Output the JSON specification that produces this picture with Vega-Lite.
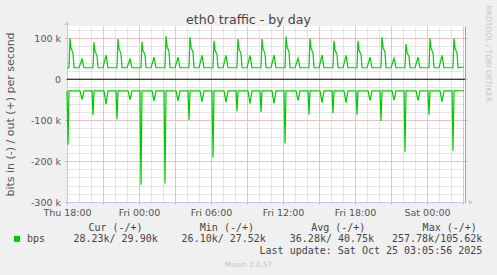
{
  "$schema": "https://vega.github.io/schema/vega-lite/v6.json",
  "width": 398,
  "height": 176,
  "autosize": {"type": "none"},
  "padding": {"left": 67, "top": 26, "right": 32, "bottom": 73},
  "background": "#f0f0f0",
  "config": {
    "view": {"fill": "white", "stroke": null},
    "axis": {"labelFont": "DejaVu Sans", "titleFont": "DejaVu Sans", "titleFontWeight": "normal"}
  },
  "title": {
    "text": "eth0 traffic - by day",
    "font": "DejaVu Sans",
    "fontSize": 12.6,
    "fontWeight": "normal",
    "color": "#444444",
    "anchor": "middle",
    "frame": "group",
    "dx": -17.5,
    "baseline": "alphabetic",
    "offset": -31.6
  },
  "datasets": {
    "outdata": [
      {"t": "2025-10-23T18:00Z", "v": 28000}, {"t": "2025-10-23T18:10Z", "v": 28000}, {"t": "2025-10-23T18:15Z", "v": 100000}, {"t": "2025-10-23T18:20Z", "v": 76000}, {"t": "2025-10-23T18:25Z", "v": 70000}, {"t": "2025-10-23T18:30Z", "v": 64000}, {"t": "2025-10-23T18:35Z", "v": 28000},
      {"t": "2025-10-23T19:00Z", "v": 28000}, {"t": "2025-10-23T19:15Z", "v": 49000}, {"t": "2025-10-23T19:25Z", "v": 28000},
      {"t": "2025-10-23T20:10Z", "v": 28000}, {"t": "2025-10-23T20:15Z", "v": 90000}, {"t": "2025-10-23T20:20Z", "v": 68400}, {"t": "2025-10-23T20:25Z", "v": 63000}, {"t": "2025-10-23T20:30Z", "v": 57600}, {"t": "2025-10-23T20:35Z", "v": 28000},
      {"t": "2025-10-23T21:00Z", "v": 28000}, {"t": "2025-10-23T21:15Z", "v": 59000}, {"t": "2025-10-23T21:25Z", "v": 28000},
      {"t": "2025-10-23T22:10Z", "v": 28000}, {"t": "2025-10-23T22:15Z", "v": 98000}, {"t": "2025-10-23T22:20Z", "v": 74500}, {"t": "2025-10-23T22:25Z", "v": 68600}, {"t": "2025-10-23T22:30Z", "v": 62700}, {"t": "2025-10-23T22:35Z", "v": 28000},
      {"t": "2025-10-23T23:00Z", "v": 28000}, {"t": "2025-10-23T23:15Z", "v": 49000}, {"t": "2025-10-23T23:25Z", "v": 28000},
      {"t": "2025-10-24T00:10Z", "v": 28000}, {"t": "2025-10-24T00:15Z", "v": 92000}, {"t": "2025-10-24T00:20Z", "v": 69900}, {"t": "2025-10-24T00:25Z", "v": 64400}, {"t": "2025-10-24T00:30Z", "v": 58900}, {"t": "2025-10-24T00:35Z", "v": 28000},
      {"t": "2025-10-24T01:00Z", "v": 28000}, {"t": "2025-10-24T01:15Z", "v": 54000}, {"t": "2025-10-24T01:25Z", "v": 28000},
      {"t": "2025-10-24T02:10Z", "v": 28000}, {"t": "2025-10-24T02:15Z", "v": 105620}, {"t": "2025-10-24T02:20Z", "v": 80300}, {"t": "2025-10-24T02:25Z", "v": 73900}, {"t": "2025-10-24T02:30Z", "v": 67600}, {"t": "2025-10-24T02:35Z", "v": 28000},
      {"t": "2025-10-24T03:00Z", "v": 28000}, {"t": "2025-10-24T03:15Z", "v": 54000}, {"t": "2025-10-24T03:25Z", "v": 28000},
      {"t": "2025-10-24T04:10Z", "v": 28000}, {"t": "2025-10-24T04:15Z", "v": 103000}, {"t": "2025-10-24T04:20Z", "v": 78300}, {"t": "2025-10-24T04:25Z", "v": 72100}, {"t": "2025-10-24T04:30Z", "v": 65900}, {"t": "2025-10-24T04:35Z", "v": 28000},
      {"t": "2025-10-24T05:00Z", "v": 28000}, {"t": "2025-10-24T05:15Z", "v": 58000}, {"t": "2025-10-24T05:25Z", "v": 28000},
      {"t": "2025-10-24T06:10Z", "v": 28000}, {"t": "2025-10-24T06:15Z", "v": 94000}, {"t": "2025-10-24T06:20Z", "v": 71400}, {"t": "2025-10-24T06:25Z", "v": 65800}, {"t": "2025-10-24T06:30Z", "v": 60200}, {"t": "2025-10-24T06:35Z", "v": 28000},
      {"t": "2025-10-24T07:00Z", "v": 28000}, {"t": "2025-10-24T07:15Z", "v": 58000}, {"t": "2025-10-24T07:25Z", "v": 28000},
      {"t": "2025-10-24T08:10Z", "v": 28000}, {"t": "2025-10-24T08:15Z", "v": 98000}, {"t": "2025-10-24T08:20Z", "v": 74500}, {"t": "2025-10-24T08:25Z", "v": 68600}, {"t": "2025-10-24T08:30Z", "v": 62700}, {"t": "2025-10-24T08:35Z", "v": 28000},
      {"t": "2025-10-24T09:00Z", "v": 28000}, {"t": "2025-10-24T09:15Z", "v": 58000}, {"t": "2025-10-24T09:25Z", "v": 28000},
      {"t": "2025-10-24T10:10Z", "v": 28000}, {"t": "2025-10-24T10:15Z", "v": 98000}, {"t": "2025-10-24T10:20Z", "v": 74500}, {"t": "2025-10-24T10:25Z", "v": 68600}, {"t": "2025-10-24T10:30Z", "v": 62700}, {"t": "2025-10-24T10:35Z", "v": 28000},
      {"t": "2025-10-24T11:00Z", "v": 28000}, {"t": "2025-10-24T11:15Z", "v": 59000}, {"t": "2025-10-24T11:25Z", "v": 28000},
      {"t": "2025-10-24T12:10Z", "v": 28000}, {"t": "2025-10-24T12:15Z", "v": 104000}, {"t": "2025-10-24T12:20Z", "v": 79000}, {"t": "2025-10-24T12:25Z", "v": 72800}, {"t": "2025-10-24T12:30Z", "v": 66600}, {"t": "2025-10-24T12:35Z", "v": 28000},
      {"t": "2025-10-24T13:00Z", "v": 28000}, {"t": "2025-10-24T13:15Z", "v": 51000}, {"t": "2025-10-24T13:25Z", "v": 28000},
      {"t": "2025-10-24T14:10Z", "v": 28000}, {"t": "2025-10-24T14:15Z", "v": 100000}, {"t": "2025-10-24T14:20Z", "v": 76000}, {"t": "2025-10-24T14:25Z", "v": 70000}, {"t": "2025-10-24T14:30Z", "v": 64000}, {"t": "2025-10-24T14:35Z", "v": 28000},
      {"t": "2025-10-24T15:00Z", "v": 28000}, {"t": "2025-10-24T15:15Z", "v": 59000}, {"t": "2025-10-24T15:25Z", "v": 28000},
      {"t": "2025-10-24T16:10Z", "v": 28000}, {"t": "2025-10-24T16:15Z", "v": 94000}, {"t": "2025-10-24T16:20Z", "v": 71400}, {"t": "2025-10-24T16:25Z", "v": 65800}, {"t": "2025-10-24T16:30Z", "v": 60200}, {"t": "2025-10-24T16:35Z", "v": 28000},
      {"t": "2025-10-24T17:00Z", "v": 28000}, {"t": "2025-10-24T17:15Z", "v": 58000}, {"t": "2025-10-24T17:25Z", "v": 28000},
      {"t": "2025-10-24T18:10Z", "v": 28000}, {"t": "2025-10-24T18:15Z", "v": 94000}, {"t": "2025-10-24T18:20Z", "v": 71400}, {"t": "2025-10-24T18:25Z", "v": 65800}, {"t": "2025-10-24T18:30Z", "v": 60200}, {"t": "2025-10-24T18:35Z", "v": 28000},
      {"t": "2025-10-24T19:00Z", "v": 28000}, {"t": "2025-10-24T19:15Z", "v": 54000}, {"t": "2025-10-24T19:25Z", "v": 28000},
      {"t": "2025-10-24T20:10Z", "v": 28000}, {"t": "2025-10-24T20:15Z", "v": 103000}, {"t": "2025-10-24T20:20Z", "v": 78300}, {"t": "2025-10-24T20:25Z", "v": 72100}, {"t": "2025-10-24T20:30Z", "v": 65900}, {"t": "2025-10-24T20:35Z", "v": 28000},
      {"t": "2025-10-24T21:00Z", "v": 28000}, {"t": "2025-10-24T21:15Z", "v": 51000}, {"t": "2025-10-24T21:25Z", "v": 28000},
      {"t": "2025-10-24T22:10Z", "v": 28000}, {"t": "2025-10-24T22:15Z", "v": 86000}, {"t": "2025-10-24T22:20Z", "v": 65400}, {"t": "2025-10-24T22:25Z", "v": 60200}, {"t": "2025-10-24T22:30Z", "v": 55000}, {"t": "2025-10-24T22:35Z", "v": 28000},
      {"t": "2025-10-24T23:00Z", "v": 28000}, {"t": "2025-10-24T23:15Z", "v": 54000}, {"t": "2025-10-24T23:25Z", "v": 28000},
      {"t": "2025-10-25T00:10Z", "v": 28000}, {"t": "2025-10-25T00:15Z", "v": 100000}, {"t": "2025-10-25T00:20Z", "v": 76000}, {"t": "2025-10-25T00:25Z", "v": 70000}, {"t": "2025-10-25T00:30Z", "v": 64000}, {"t": "2025-10-25T00:35Z", "v": 28000},
      {"t": "2025-10-25T01:00Z", "v": 28000}, {"t": "2025-10-25T01:15Z", "v": 58000}, {"t": "2025-10-25T01:25Z", "v": 28000},
      {"t": "2025-10-25T02:10Z", "v": 28000}, {"t": "2025-10-25T02:15Z", "v": 100000}, {"t": "2025-10-25T02:20Z", "v": 76000}, {"t": "2025-10-25T02:25Z", "v": 70000}, {"t": "2025-10-25T02:30Z", "v": 64000}, {"t": "2025-10-25T02:35Z", "v": 28000},
      {"t": "2025-10-25T03:05Z", "v": 29900}
    ],
    "indata": [
      {"t": "2025-10-23T18:00Z", "v": -28500}, {"t": "2025-10-23T18:05Z", "v": -160000}, {"t": "2025-10-23T18:10Z", "v": -28500},
      {"t": "2025-10-23T19:05Z", "v": -28500}, {"t": "2025-10-23T19:15Z", "v": -49000}, {"t": "2025-10-23T19:25Z", "v": -28500},
      {"t": "2025-10-23T20:05Z", "v": -28500}, {"t": "2025-10-23T20:10Z", "v": -88000}, {"t": "2025-10-23T20:15Z", "v": -28500},
      {"t": "2025-10-23T21:05Z", "v": -28500}, {"t": "2025-10-23T21:15Z", "v": -61000}, {"t": "2025-10-23T21:25Z", "v": -28500},
      {"t": "2025-10-23T22:05Z", "v": -28500}, {"t": "2025-10-23T22:10Z", "v": -98000}, {"t": "2025-10-23T22:15Z", "v": -28500},
      {"t": "2025-10-23T23:05Z", "v": -28500}, {"t": "2025-10-23T23:15Z", "v": -50000}, {"t": "2025-10-23T23:25Z", "v": -28500},
      {"t": "2025-10-24T00:05Z", "v": -28500}, {"t": "2025-10-24T00:10Z", "v": -257780}, {"t": "2025-10-24T00:15Z", "v": -28500},
      {"t": "2025-10-24T01:05Z", "v": -28500}, {"t": "2025-10-24T01:15Z", "v": -53000}, {"t": "2025-10-24T01:25Z", "v": -28500},
      {"t": "2025-10-24T02:05Z", "v": -28500}, {"t": "2025-10-24T02:10Z", "v": -255000}, {"t": "2025-10-24T02:15Z", "v": -28500},
      {"t": "2025-10-24T03:05Z", "v": -28500}, {"t": "2025-10-24T03:15Z", "v": -53000}, {"t": "2025-10-24T03:25Z", "v": -28500},
      {"t": "2025-10-24T04:05Z", "v": -28500}, {"t": "2025-10-24T04:10Z", "v": -99500}, {"t": "2025-10-24T04:15Z", "v": -28500},
      {"t": "2025-10-24T05:05Z", "v": -28500}, {"t": "2025-10-24T05:15Z", "v": -55000}, {"t": "2025-10-24T05:25Z", "v": -28500},
      {"t": "2025-10-24T06:05Z", "v": -28500}, {"t": "2025-10-24T06:10Z", "v": -191000}, {"t": "2025-10-24T06:15Z", "v": -28500},
      {"t": "2025-10-24T07:05Z", "v": -28500}, {"t": "2025-10-24T07:15Z", "v": -56000}, {"t": "2025-10-24T07:25Z", "v": -28500},
      {"t": "2025-10-24T08:05Z", "v": -28500}, {"t": "2025-10-24T08:10Z", "v": -78000}, {"t": "2025-10-24T08:15Z", "v": -28500},
      {"t": "2025-10-24T09:05Z", "v": -28500}, {"t": "2025-10-24T09:15Z", "v": -60000}, {"t": "2025-10-24T09:25Z", "v": -28500},
      {"t": "2025-10-24T10:05Z", "v": -28500}, {"t": "2025-10-24T10:10Z", "v": -80000}, {"t": "2025-10-24T10:15Z", "v": -28500},
      {"t": "2025-10-24T11:05Z", "v": -28500}, {"t": "2025-10-24T11:15Z", "v": -59000}, {"t": "2025-10-24T11:25Z", "v": -28500},
      {"t": "2025-10-24T12:05Z", "v": -28500}, {"t": "2025-10-24T12:10Z", "v": -157000}, {"t": "2025-10-24T12:15Z", "v": -28500},
      {"t": "2025-10-24T13:05Z", "v": -28500}, {"t": "2025-10-24T13:15Z", "v": -52000}, {"t": "2025-10-24T13:25Z", "v": -28500},
      {"t": "2025-10-24T14:05Z", "v": -28500}, {"t": "2025-10-24T14:10Z", "v": -87000}, {"t": "2025-10-24T14:15Z", "v": -28500},
      {"t": "2025-10-24T15:05Z", "v": -28500}, {"t": "2025-10-24T15:15Z", "v": -57000}, {"t": "2025-10-24T15:25Z", "v": -28500},
      {"t": "2025-10-24T16:05Z", "v": -28500}, {"t": "2025-10-24T16:10Z", "v": -83000}, {"t": "2025-10-24T16:15Z", "v": -28500},
      {"t": "2025-10-24T17:05Z", "v": -28500}, {"t": "2025-10-24T17:15Z", "v": -57000}, {"t": "2025-10-24T17:25Z", "v": -28500},
      {"t": "2025-10-24T18:05Z", "v": -28500}, {"t": "2025-10-24T18:10Z", "v": -87000}, {"t": "2025-10-24T18:15Z", "v": -28500},
      {"t": "2025-10-24T19:05Z", "v": -28500}, {"t": "2025-10-24T19:15Z", "v": -52000}, {"t": "2025-10-24T19:25Z", "v": -28500},
      {"t": "2025-10-24T20:05Z", "v": -28500}, {"t": "2025-10-24T20:10Z", "v": -102000}, {"t": "2025-10-24T20:15Z", "v": -28500},
      {"t": "2025-10-24T21:05Z", "v": -28500}, {"t": "2025-10-24T21:15Z", "v": -51000}, {"t": "2025-10-24T21:25Z", "v": -28500},
      {"t": "2025-10-24T22:05Z", "v": -28500}, {"t": "2025-10-24T22:10Z", "v": -177000}, {"t": "2025-10-24T22:15Z", "v": -28500},
      {"t": "2025-10-24T23:05Z", "v": -28500}, {"t": "2025-10-24T23:15Z", "v": -52000}, {"t": "2025-10-24T23:25Z", "v": -28500},
      {"t": "2025-10-25T00:05Z", "v": -28500}, {"t": "2025-10-25T00:10Z", "v": -87000}, {"t": "2025-10-25T00:15Z", "v": -28500},
      {"t": "2025-10-25T01:05Z", "v": -28500}, {"t": "2025-10-25T01:15Z", "v": -55000}, {"t": "2025-10-25T01:25Z", "v": -28500},
      {"t": "2025-10-25T02:05Z", "v": -28500}, {"t": "2025-10-25T02:10Z", "v": -175000}, {"t": "2025-10-25T02:15Z", "v": -28500},
      {"t": "2025-10-25T03:05Z", "v": -28230}
    ],
    "headdata": [
      {"col": "bps", "row": "bps", "label": "bps"},
      {"col": "Cur", "row": "head", "label": "Cur (-/+)"},
      {"col": "Min", "row": "head", "label": "Min (-/+)"},
      {"col": "Avg", "row": "head", "label": "Avg (-/+)"},
      {"col": "Max", "row": "head", "label": "Max (-/+)"}
    ],
    "valdata": [
      {"col": "Cur", "row": "bps", "label": "28.23k/ 29.90k"},
      {"col": "Min", "row": "bps", "label": "26.10k/ 27.52k"},
      {"col": "Avg", "row": "bps", "label": "36.28k/ 40.75k"},
      {"col": "Max", "row": "bps", "label": "257.78k/105.62k"},
      {"col": "Max", "row": "update", "label": "Last update: Sat Oct 25 03:05:56 2025"}
    ]
  },
  "layer": [
    {
      "data": {"name": "outdata"},
      "mark": {"type": "line", "color": "#00cc00", "strokeWidth": 1.2},
      "encoding": {
        "x": {
          "field": "t", "type": "temporal",
          "scale": {"type": "utc", "domain": [1761242400000, 1761361800000], "nice": false},
          "axis": {
            "orient": "top",
            "values": [1761242400000, 1761246000000, 1761249600000, 1761253200000, 1761256800000, 1761260400000, 1761264000000, 1761267600000, 1761271200000, 1761274800000, 1761278400000, 1761282000000, 1761285600000, 1761289200000, 1761292800000, 1761296400000, 1761300000000, 1761303600000, 1761307200000, 1761310800000, 1761314400000, 1761318000000, 1761321600000, 1761325200000, 1761328800000, 1761332400000, 1761336000000, 1761339600000, 1761343200000, 1761346800000, 1761350400000, 1761354000000, 1761357600000, 1761361200000],
            "grid": true, "gridColor": "#cccccc", "gridDash": [1, 1], "gridWidth": 1,
            "labels": false, "ticks": false, "domain": false, "title": null
          }
        },
        "y": {
          "field": "v", "type": "quantitative",
          "scale": {"domain": [-300000, 130000], "nice": false, "zero": false},
          "axis": {
            "orient": "right",
            "values": [-280000, -260000, -240000, -220000, -200000, -180000, -160000, -140000, -120000, -100000, -80000, -60000, -40000, -20000, 0, 20000, 40000, 60000, 80000, 100000, 120000],
            "grid": true, "gridColor": "#cccccc", "gridDash": [1, 1], "gridWidth": 1,
            "labels": false, "ticks": false, "domain": false, "title": null
          }
        }
      }
    },
    {
      "data": {"name": "indata"},
      "mark": {"type": "line", "color": "#00cc00", "strokeWidth": 1.2},
      "encoding": {
        "x": {
          "field": "t", "type": "temporal",
          "scale": {"type": "utc", "domain": [1761242400000, 1761361800000], "nice": false},
          "axis": {
            "orient": "bottom",
            "values": [1761242400000, 1761253200000, 1761264000000, 1761274800000, 1761285600000, 1761296400000, 1761307200000, 1761318000000, 1761328800000, 1761339600000, 1761350400000, 1761361200000],
            "grid": true, "gridColor": "#e8a0a0", "gridDash": [1, 1], "gridWidth": 1,
            "labelExpr": "utchours(datum.value) % 6 == 0 ? utcFormat(datum.value, '%a %H:%M') : ''",
            "labelFontSize": 9.5, "labelColor": "#555555", "labelFlush": false, "labelOverlap": false,
            "labelBaseline": "alphabetic", "labelPadding": 11.5,
            "ticks": true, "tickSize": 2, "tickColor": "#e8a0a0",
            "domain": true, "domainColor": "#c6c6f4", "domainWidth": 1,
            "title": "Munin 2.0.57", "titleX": 181, "titleY": 64.5, "titleAlign": "center", "titleBaseline": "alphabetic",
            "titleFontSize": 7.2, "titleColor": "#c4c4c4"
          }
        },
        "y": {
          "field": "v", "type": "quantitative",
          "scale": {"domain": [-300000, 130000], "nice": false, "zero": false},
          "axis": {
            "orient": "left",
            "values": [-300000, -200000, -100000, 0, 100000],
            "grid": true, "gridColor": "#e8a0a0", "gridDash": [1, 1], "gridWidth": 1,
            "labelExpr": "datum.value == 0 ? '0\u00a0\u00a0' : (datum.value < 0 ? '-' : '') + abs(datum.value) / 1000 + ' k'",
            "labelFontSize": 9.5, "labelColor": "#555555", "labelPadding": 4.5, "labelBaseline": "middle",
            "ticks": true, "tickSize": 2, "tickColor": "#e8a0a0",
            "domain": true, "domainColor": "#c6c6f4", "domainWidth": 1,
            "title": "bits in (-) / out (+) per second", "titleX": -56.5, "titleY": 88, "titleAngle": -90,
            "titleAlign": "center", "titleBaseline": "middle", "titleFontSize": 11, "titleColor": "#555555"
          }
        }
      }
    },
    {
      "data": {"values": [{}]},
      "mark": {"type": "rule", "color": "#000000", "strokeWidth": 1},
      "encoding": {
        "y": {
          "datum": 0, "type": "quantitative",
          "scale": {"domain": [-300000, 130000], "nice": false, "zero": false},
          "axis": {
            "orient": "right", "values": [-200000, -100000, 0, 100000],
            "grid": false, "labels": false,
            "ticks": true, "tickSize": 2, "tickColor": "#e8a0a0",
            "domain": true, "domainColor": "#a0a0a0", "domainWidth": 1,
            "title": "RRDTOOL / TOBI OETIKER", "titleAngle": 90, "titleAlign": "left", "titleBaseline": "middle",
            "titleX": 22.8, "titleY": -21, "titleFontSize": 7.5, "titleColor": "#c4c4c4"
          }
        }
      }
    },
    {
      "data": {"values": [{}]},
      "mark": {"type": "point", "shape": "triangle-up", "size": 25, "filled": true, "color": "#c6c6f4", "opacity": 1},
      "encoding": {
        "x": {"datum": 1761242400000, "type": "temporal", "scale": {"type": "utc", "domain": [1761242400000, 1761361800000], "nice": false}, "axis": null},
        "y": {"datum": 137000, "type": "quantitative", "scale": {"domain": [-300000, 130000], "nice": false, "zero": false}, "axis": null}
      }
    },
    {
      "data": {"values": [{}]},
      "mark": {"type": "point", "shape": "triangle-right", "size": 25, "filled": true, "color": "#c6c6f4", "opacity": 1},
      "encoding": {
        "x": {"datum": 1761363600000, "type": "temporal", "scale": {"type": "utc", "domain": [1761242400000, 1761361800000], "nice": false}, "axis": null},
        "y": {"datum": -300000, "type": "quantitative", "scale": {"domain": [-300000, 130000], "nice": false, "zero": false}, "axis": null}
      }
    },
    {
      "data": {"name": "headdata"},
      "encoding": {
        "x": {"field": "col", "type": "nominal", "scale": {"type": "point", "domain": ["bps", "Cur", "Min", "Avg", "Max"], "range": [-62.9, 382.7], "padding": 0}, "axis": null},
        "y": {"field": "row", "type": "nominal", "scale": {"type": "point", "domain": ["head", "bps", "update"], "range": [205, 227.7], "padding": 0}, "axis": null}
      },
      "layer": [
        {
          "transform": [{"filter": "datum.col != 'bps'"}],
          "mark": {"type": "text", "font": "DejaVu Sans Mono", "fontSize": 10, "align": "center", "baseline": "alphabetic", "color": "#444444"},
          "encoding": {"text": {"field": "label"}}
        },
        {
          "transform": [{"filter": "datum.col == 'bps'"}],
          "mark": {"type": "text", "font": "DejaVu Sans Mono", "fontSize": 10, "align": "left", "baseline": "alphabetic", "color": "#444444", "dx": 22.9},
          "encoding": {"text": {"field": "label"}}
        },
        {
          "transform": [{"filter": "datum.col == 'bps'"}],
          "mark": {"type": "square", "size": 36, "filled": true, "color": "#00cc00", "opacity": 1, "xOffset": 12.9, "yOffset": -3.5}
        }
      ]
    },
    {
      "data": {"name": "valdata"},
      "mark": {"type": "text", "font": "DejaVu Sans Mono", "fontSize": 10, "align": "right", "baseline": "alphabetic", "color": "#444444"},
      "encoding": {
        "x": {"field": "col", "type": "nominal", "scale": {"type": "point", "domain": ["Cur", "Min", "Avg", "Max"], "range": [90.7, 415.3], "padding": 0}, "axis": null},
        "y": {"field": "row", "type": "nominal", "scale": {"type": "point", "domain": ["head", "bps", "update"], "range": [205, 227.7], "padding": 0}, "axis": null},
        "text": {"field": "label"}
      }
    }
  ],
  "resolve": {"scale": {"x": "independent", "y": "independent"}}
}
